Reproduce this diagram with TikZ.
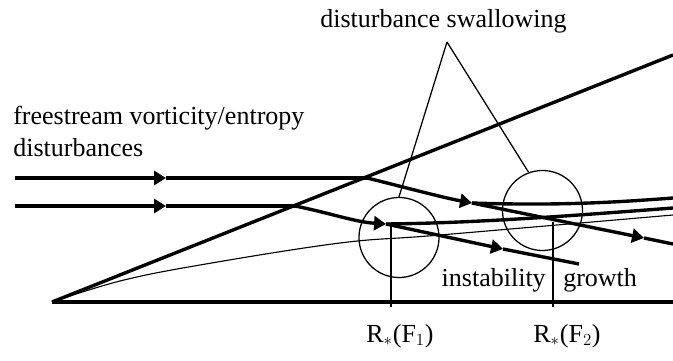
\documentclass[tikz,border=0pt]{standalone}
\usepackage{fontspec}
\setmainfont{Liberation Serif}
\usetikzlibrary{arrows.meta}
\begin{document}
\begin{tikzpicture}[x=0.025cm,y=-0.025cm,
  every node/.style={font=\fontsize{18.5}{22}\selectfont,inner sep=0pt},
  wall/.style={line width=3pt},
  fl/.style={line width=2.4pt},
  ar/.style={fl,-{Triangle[length=8.5pt,width=10pt]}},
  lead/.style={line width=0.9pt},
  ring/.style={circle,draw,line width=0.9pt,minimum size=2cm}]
  \useasboundingbox (0,0) rectangle (673,361);
  \coordinate (tip) at (52,302); \coordinate (wend) at (673,302); \coordinate (shend) at (673,55);
  \draw[wall] (tip)--(wend); \draw[fl] (tip)--(shend);
  \draw[line width=0.8pt] plot[smooth,tension=0.6] coordinates {(52,302) (120,281) (200,265) (340,243) (440,235) (673,215)};
  \node[anchor=base west] (free) at (13,125) {freestream vorticity/entropy};
  \node[anchor=base west] (dist) at (13,157) {disturbances};
  \node[anchor=base] (swal) at (443.5,28) {disturbance swallowing};
  \node[anchor=base east] (inst) at (546,287) {instability};
  \node[anchor=base west] (grow) at (563,287) {growth};
  \node[anchor=base] (r1) at (400,342) {R$_{\ast}$(F$_{1}$)};
  \node[anchor=base] (r2) at (567,342) {R$_{\ast}$(F$_{2}$)};
  \node[ring] (c1) at (399,237.5) {};
  \node[ring] (c2) at (542.5,210.5) {};
  \coordinate (apex) at (447,42);
  \draw[lead] (apex)--(c1.north) (apex)--(c2.110);
  \coordinate (r1top) at (391,225); \coordinate (r1bot) at (391,307);
  \coordinate (r2top) at (553,222); \coordinate (r2bot) at (553,307);
  \draw[lead] (r1top)--(r1bot); \draw[lead] (r2top)--(r2bot);
  % upper streamline
  \coordinate (u0) at (15,178); \coordinate (u1) at (166,178); \coordinate (u2) at (367,178);
  \coordinate (u3) at (472,203); \coordinate (u4) at (673,198); \coordinate (u5) at (644,238); \coordinate (u6) at (673,244);
  \draw[ar] (u0)--(u1); \draw[fl] (u1)--(u2);
  \draw[ar] (u2) .. controls (400,186) and (440,197) .. (u3);
  \draw[fl] (u3) .. controls (560,206) and (620,202) .. (u4);
  \draw[ar] (u3)--(u5); \draw[fl] (u5)--(u6);
  % lower streamline
  \coordinate (l0) at (15,206); \coordinate (l1) at (166,206); \coordinate (l2) at (295,206);
  \coordinate (l3) at (386,224); \coordinate (l4) at (673,208); \coordinate (l5) at (503,249); \coordinate (l6) at (579,264);
  \draw[ar] (l0)--(l1); \draw[fl] (l1)--(l2);
  \draw[ar] (l2) .. controls (330,213) and (355,222) .. (l3);
  \draw[fl] (l3) .. controls (480,223) and (580,215) .. (l4);
  \draw[ar] (l3)--(l5); \draw[fl] (l5)--(l6);
\end{tikzpicture}
\end{document}
